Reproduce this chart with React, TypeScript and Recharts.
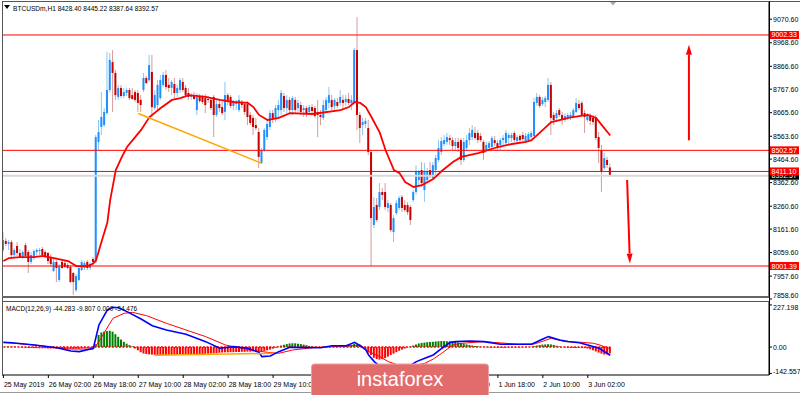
import { ComposedChart, Bar, Line, XAxis, YAxis, ReferenceLine, Cell } from "recharts";

// BTCUSDm H1 candles, one per hour from 25 May 10:00 to 3 Jun 10:00
const opens = [
  8071, 8110, 8097, 8105, 8049, 8088, 8058, 8040, 8092, 8062,
  8019, 8036, 8062, 8066, 8075, 8062, 8058, 8040, 7980, 8019,
  7941, 8019, 8014, 8006, 7997, 7971, 7897, 7941, 7984, 7993,
  8019, 7993, 8032, 8019, 8539, 8604, 8612, 8664, 8764, 8885,
  8838, 8734, 8773, 8738, 8751, 8764, 8742, 8755, 8751, 8721,
  8764, 8816, 8807, 8842, 8686, 8699, 8729, 8786, 8829, 8786,
  8773, 8790, 8751, 8764, 8799, 8773, 8751, 8734, 8742, 8677,
  8734, 8734, 8729, 8725, 8721, 8734, 8656, 8703, 8690, 8669,
  8742, 8734, 8695, 8703, 8677, 8712, 8703, 8703, 8656, 8643,
  8612, 8582, 8448, 8504, 8560, 8604, 8664, 8643, 8677, 8677,
  8738, 8686, 8721, 8677, 8721, 8686, 8699, 8677, 8686, 8669,
  8690, 8686, 8669, 8656, 8643, 8677, 8708, 8721, 8695, 8712,
  8708, 8721, 8712, 8725, 8708, 8708, 8937, 8656, 8612, 8617,
  8599, 8495, 8179, 8266, 8257, 8322, 8322, 8253, 8266, 8149,
  8231, 8253, 8300, 8266, 8266, 8257, 8287, 8322, 8374, 8417,
  8331, 8374, 8417, 8383, 8417, 8461, 8495, 8530, 8539, 8556,
  8547, 8521, 8539, 8547, 8461, 8513, 8547, 8560, 8578, 8578,
  8565, 8539, 8504, 8513, 8517, 8547, 8534, 8526, 8547, 8534,
  8556, 8556, 8578, 8543, 8565, 8569, 8543, 8547, 8560, 8565,
  8708, 8734, 8703, 8712, 8721, 8786, 8656, 8643, 8677, 8656,
  8634, 8647, 8643, 8647, 8669, 8703, 8708, 8664, 8634, 8656,
  8643, 8643, 8560, 8504, 8426, 8461, 8428.4,
];
const highs = [
  8149, 8123, 8114, 8114, 8079, 8105, 8075, 8071, 8101, 8071,
  8062, 8075, 8079, 8079, 8084, 8071, 8062, 8053, 8036, 8027,
  8010, 8027, 8023, 8014, 8006, 7975, 7967, 8001, 8027, 8023,
  8027, 8019, 8040, 8569, 8634, 8755, 8686, 8929, 8924, 8937,
  8851, 8786, 8786, 8773, 8773, 8773, 8773, 8764, 8764, 8742,
  8838, 8825, 8916, 8916, 8764, 8807, 8829, 8842, 8851, 8816,
  8807, 8816, 8786, 8816, 8816, 8786, 8773, 8751, 8755, 8751,
  8747, 8742, 8747, 8738, 8729, 8742, 8721, 8721, 8712, 8799,
  8751, 8742, 8721, 8721, 8742, 8721, 8712, 8716, 8669, 8656,
  8643, 8599, 8513, 8599, 8634, 8677, 8677, 8699, 8721, 8764,
  8751, 8742, 8734, 8738, 8734, 8721, 8712, 8699, 8695, 8699,
  8703, 8695, 8721, 8677, 8721, 8734, 8777, 8742, 8729, 8729,
  8764, 8742, 8742, 8751, 8742, 8946, 9080, 8669, 8643, 8643,
  8634, 8504, 8300, 8296, 8361, 8339, 8361, 8287, 8274, 8222,
  8287, 8305, 8309, 8287, 8279, 8266, 8331, 8439, 8417, 8452,
  8448, 8426, 8452, 8452, 8482, 8547, 8560, 8569, 8578, 8569,
  8560, 8556, 8556, 8556, 8556, 8569, 8599, 8612, 8604, 8591,
  8578, 8547, 8539, 8543, 8565, 8565, 8547, 8556, 8569, 8591,
  8578, 8578, 8586, 8569, 8573, 8582, 8578, 8582, 8586, 8729,
  8751, 8742, 8734, 8738, 8816, 8799, 8669, 8677, 8686, 8669,
  8664, 8664, 8669, 8686, 8729, 8721, 8716, 8677, 8664, 8664,
  8656, 8656, 8582, 8526, 8491, 8474, 8445.22,
];
const lows = [
  8062, 8088, 8071, 8036, 8036, 8045, 8036, 8032, 8036, 7971,
  8010, 8027, 8045, 8049, 8045, 8036, 8010, 8001, 7975, 7932,
  7932, 7988, 7993, 7988, 7928, 7876, 7889, 7936, 7980, 7984,
  7984, 7984, 8010, 8014, 8504, 8569, 8604, 8656, 8755, 8669,
  8721, 8721, 8729, 8729, 8738, 8721, 8721, 8712, 8669, 8669,
  8755, 8790, 8799, 8647, 8677, 8677, 8721, 8777, 8764, 8755,
  8742, 8729, 8734, 8751, 8755, 8734, 8721, 8721, 8721, 8656,
  8708, 8703, 8664, 8708, 8677, 8560, 8647, 8669, 8656, 8634,
  8699, 8686, 8677, 8677, 8669, 8686, 8656, 8612, 8612, 8569,
  8591, 8426, 8443, 8495, 8547, 8591, 8621, 8625, 8643, 8656,
  8669, 8664, 8664, 8656, 8664, 8669, 8656, 8647, 8647, 8656,
  8664, 8643, 8560, 8612, 8634, 8664, 8686, 8677, 8669, 8686,
  8695, 8686, 8695, 8699, 8677, 8699, 8591, 8534, 8569, 8599,
  8482, 8001, 8166, 8192, 8244, 8287, 8244, 8235, 8149, 8105,
  8222, 8244, 8235, 8235, 8222, 8179, 8279, 8309, 8352, 8344,
  8279, 8365, 8383, 8374, 8396, 8452, 8482, 8521, 8526, 8526,
  8504, 8504, 8495, 8439, 8452, 8504, 8526, 8547, 8547, 8534,
  8539, 8461, 8491, 8504, 8508, 8521, 8504, 8504, 8526, 8526,
  8530, 8539, 8539, 8534, 8539, 8543, 8534, 8543, 8552, 8556,
  8695, 8686, 8695, 8690, 8712, 8569, 8612, 8625, 8647, 8612,
  8625, 8634, 8634, 8643, 8664, 8677, 8651, 8578, 8625, 8612,
  8612, 8547, 8448, 8322, 8417, 8426, 8387.64,
];
const closes = [
  8114, 8097, 8105, 8049, 8071, 8058, 8040, 8062, 8045, 8019,
  8049, 8066, 8071, 8071, 8049, 8040, 8023, 8010, 8019, 7993,
  8001, 7993, 7997, 7993, 7932, 7932, 7958, 7993, 8019, 8014,
  7993, 8010, 8019, 8560, 8582, 8647, 8669, 8764, 8894, 8838,
  8742, 8773, 8738, 8755, 8764, 8729, 8725, 8721, 8708, 8699,
  8816, 8794, 8872, 8690, 8742, 8786, 8807, 8829, 8777, 8773,
  8799, 8751, 8773, 8807, 8764, 8742, 8734, 8742, 8725, 8734,
  8716, 8712, 8699, 8721, 8686, 8656, 8703, 8686, 8664, 8742,
  8721, 8695, 8712, 8708, 8721, 8699, 8669, 8647, 8621, 8604,
  8599, 8474, 8504, 8591, 8617, 8664, 8643, 8686, 8699, 8751,
  8686, 8721, 8677, 8729, 8677, 8708, 8669, 8686, 8660, 8690,
  8673, 8651, 8656, 8647, 8699, 8721, 8742, 8690, 8721, 8695,
  8734, 8708, 8725, 8708, 8721, 8937, 8656, 8599, 8625, 8630,
  8495, 8209, 8257, 8201, 8322, 8309, 8257, 8274, 8157, 8209,
  8274, 8296, 8253, 8244, 8235, 8201, 8322, 8409, 8409, 8361,
  8409, 8409, 8391, 8439, 8469, 8513, 8543, 8547, 8560, 8547,
  8521, 8539, 8513, 8461, 8539, 8547, 8578, 8591, 8556, 8547,
  8547, 8491, 8526, 8534, 8556, 8534, 8513, 8547, 8556, 8578,
  8569, 8569, 8547, 8560, 8547, 8552, 8565, 8573, 8578, 8712,
  8734, 8695, 8721, 8729, 8786, 8643, 8634, 8664, 8656, 8634,
  8651, 8656, 8656, 8677, 8708, 8686, 8656, 8647, 8651, 8630,
  8625, 8556, 8513, 8409, 8469, 8439, 8392.57,
];

// moving average at these bars
const maBars = [0, 2, 6, 11, 14, 18, 23, 26, 30, 32, 33, 35, 37, 38, 40, 42, 44, 49, 52, 56, 60, 63, 66, 72, 77, 82, 87, 89, 91, 94, 98, 102, 110, 120, 123, 125, 127, 129, 131, 134, 136, 139, 141, 143, 146, 149, 153, 156, 160, 163, 169, 176, 181, 186, 188, 192, 195, 198, 201, 205, 208, 211, 213, 216];
const maValues = [8023, 8036, 8040, 8040, 8045, 8036, 8023, 8001, 8001, 8012, 8027, 8110, 8190, 8287, 8417, 8470, 8517, 8591, 8647, 8686, 8721, 8729, 8742, 8734, 8721, 8712, 8708, 8690, 8656, 8634, 8643, 8664, 8660, 8677, 8690, 8712, 8708, 8690, 8647, 8578, 8504, 8417, 8404, 8365, 8344, 8352, 8378, 8413, 8452, 8474, 8491, 8517, 8530, 8539, 8547, 8591, 8625, 8634, 8643, 8651, 8656, 8643, 8612, 8567];

// MACD(12,26,9)
const macdBars = [0, 3, 11, 19, 24, 27, 32, 33, 34, 37, 39, 41, 44, 49, 53, 58, 65, 72, 77, 82, 87, 91, 92, 95, 98, 102, 113, 117, 122, 125, 127, 129, 130, 132, 135, 138, 141, 144, 147, 150, 153, 156, 159, 161, 166, 171, 177, 183, 188, 192, 194, 198, 201, 205, 208, 212, 216];
const macdValues = [25, 23, 11, -4, -22, -25, -7, 56, 119, 200, 214, 212, 191, 151, 115, 92, 69, 29, -7, 2, -7, -29, -52, -49, -25, -2, -4, 7, 7, 25, 7, -16, -43, -79, -115, -140, -132, -108, -79, -61, -43, -8, 25, 29, 32, 29, 15, 15, 15, 43, 56, 38, 30, 23, 11, -7, -44.283];
const signalBars = [0, 11, 23, 32, 34, 39, 43, 46, 51, 58, 65, 72, 79, 86, 94, 98, 103, 110, 117, 124, 127, 130, 134, 137, 141, 145, 150, 153, 156, 160, 163, 171, 183, 189, 195, 200, 206, 210, 212, 216];
const signalValues = [25, 11, -11, -11, 29, 155, 182, 187, 169, 128, 92, 56, 11, -11, -29, -34, -16, -4, 2, 7, 11, -25, -52, -79, -100, -104, -88, -65, -34, 11, 20, 29, 15, 16, 47, 29, 25, 20, 12, -9.807];
const histValues = [
  0, 1, 1, 2, 1, 0, -1, -2, -4, -5,
  -5, -6, -6, -7, -7, -7, -8, -8, -8, -9,
  -9, -9, -10, -10, -10, -10, -9, -9, -8, -7,
  -5, -4, -2, 15, 65, 79, 83, 86, 88, 83,
  69, 55, 40, 28, 18, 10, 3, -8, -18, -28,
  -35, -38, -40, -41, -42, -43, -43, -43, -43, -43,
  -42, -42, -42, -41, -41, -40, -40, -40, -39, -39,
  -38, -38, -37, -36, -35, -34, -33, -31, -30, -29,
  -29, -28, -28, -27, -27, -26, -26, -25, -25, -24,
  -24, -24, -23, -21, -18, -14, -9, -4, 3, 8,
  12, 16, 19, 20, 20, 18, 16, 13, 10, 6,
  3, 1, -1, -1, 0, 1, 2, 4, 6, 8,
  9, 10, 10, 11, 12, 17, 14, 8, 2, -12,
  -30, -43, -58, -65, -68, -66, -60, -52, -43, -36,
  -28, -20, -14, -8, -2, 3, 8, 14, 19, 22,
  24, 26, 27, 28, 30, 31, 32, 32, 31, 30,
  29, 27, 24, 21, 18, 14, 11, 8, 6, 4,
  2, 1, -1, -2, -3, -3, -4, -4, -4, -3,
  -3, -3, -2, -2, -2, -1, -1, 0, 1, 4,
  8, 11, 13, 14, 15, 14, 11, 7, 3, -1,
  -3, -4, -5, -5, -5, -4, -5, -6, -8, -12,
  -18, -24, -30, -36, -41, -40, -34.476,
];

const tickBars = [0, 16, 32, 48, 64, 80, 96, 112, 128, 144, 160, 176, 192, 208];
const tickLabels = ["25 May 2019", "26 May 02:00", "26 May 18:00", "27 May 10:00", "28 May 02:00", "28 May 18:00", "29 May 10:00", "30 May 02:00", "30 May 18:00", "31 May 10:00", "1 Jun 02:00", "1 Jun 18:00", "2 Jun 10:00", "3 Jun 02:00"];
const priceTicks = [7858.6, 7957.6, 8059.6, 8161.6, 8260.6, 8362.6, 8464.6, 8563.6, 8665.6, 8767.6, 8866.6, 8968.6, 9070.6];
const macdTicks = [227.198, 0, -142.557];
const macdTickLabels = ["227.198", "0.00", "-142.557"];
const levels = [9002.33, 8502.57, 8411.1, 8001.39];
const lastPrice = 8392.57;

// drawn objects: (bar, price) pairs
const trendLine = [{ x: 48, y: 8662 }, { x: 92, y: 8446 }];
const macdTrendLine = [{ x: 54, y: -45 }, { x: 96, y: -34 }];
const macdZeroLine = [{ x: 0, y: 0 }, { x: 216, y: 0 }];
const upArrow = [{ x: 244, y: 8546 }, { x: 244, y: 8960 }];
const downArrow = [{ x: 222, y: 8374 }, { x: 223, y: 8012 }];

const SLOTS = 273;
const FONT = "'Liberation Sans', Arial, sans-serif";
const BULL = "#1e90ff";
const BULL_WICK = "#8cc6f2";
const BEAR = "#c80000";
const BEAR_WICK = "#d99a9a";
const RED = "#ff0000";

const lookup = (bars: number[], vals: number[]) => new Map(bars.map((b, k) => [b, vals[k]]));
const maMap = lookup(maBars, maValues);
const macdMap = lookup(macdBars, macdValues);
const signalMap = lookup(signalBars, signalValues);

const rows = Array.from({ length: SLOTS }, (_, i) => {
  const has = i < opens.length;
  return {
    i,
    range: has ? [lows[i], highs[i]] : null,
    o: has ? opens[i] : null,
    h: has ? highs[i] : null,
    l: has ? lows[i] : null,
    c: has ? closes[i] : null,
    ma: maMap.has(i) ? maMap.get(i) : null,
    macd: macdMap.has(i) ? macdMap.get(i) : null,
    signal: signalMap.has(i) ? signalMap.get(i) : null,
    hist: has ? histValues[i] : null,
  };
});

const Candle = (props: any) => {
  const { x, y, width, height, payload } = props;
  if (!payload || payload.o == null || y == null) return null;
  const { o, h, l, c } = payload;
  const top = Math.min(y, y + height);
  const bot = Math.max(y, y + height);
  const span = h - l || 1;
  const py = (v: number) => top + ((h - v) / span) * (bot - top);
  const cx = x + width / 2;
  const up = c >= o;
  const b1 = py(Math.max(o, c));
  const b2 = py(Math.min(o, c));
  return (
    <g>
      <line x1={cx} x2={cx} y1={top} y2={bot} stroke={up ? BULL_WICK : BEAR_WICK} strokeWidth={1} />
      <rect x={cx - 1} y={b1} width={2} height={Math.max(b2 - b1, 1)} fill={up ? BULL : BEAR} />
    </g>
  );
};

const Arrow = (p: any) => {
  const { x1, y1, x2, y2 } = p;
  const ang = Math.atan2(y2 - y1, x2 - x1);
  const len = 10;
  const half = 3;
  const bx = x2 - len * Math.cos(ang);
  const by = y2 - len * Math.sin(ang);
  const nx = -Math.sin(ang) * half;
  const ny = Math.cos(ang) * half;
  return (
    <g>
      <line x1={x1} y1={y1} x2={bx} y2={by} stroke={RED} strokeWidth={2} />
      <polygon points={`${x2},${y2} ${bx + nx},${by + ny} ${bx - nx},${by - ny}`} fill={RED} />
    </g>
  );
};

const priceTag = (bg: string, text: string) => (props: any) => {
  const vb = props.viewBox;
  if (!vb) return null;
  const x = vb.x + vb.width + 1;
  return (
    <g>
      <rect x={x} y={vb.y - 4} width={29} height={8} fill={bg} />
      <text x={x + 1.5} y={vb.y} dy={2.5} fontSize={7} fontFamily={FONT} fill="#fff">
        {text}
      </text>
    </g>
  );
};

const PriceTick = (p: any) => {
  const v = Number(p.payload.value);
  const dy = v === priceTicks[0] ? -0.5 : 2.5;
  return (
    <text x={p.x} y={p.y} dy={dy} fontSize={7} fontFamily={FONT} fill="#000" textAnchor="start">
      {v.toFixed(2)}
    </text>
  );
};

const MacdTick = (p: any) => {
  const k = macdTicks.indexOf(p.payload.value);
  const dy = k === 0 ? 5 : k === 2 ? 1 : 3;
  return (
    <text x={p.x} y={p.y} dy={dy} fontSize={7} fontFamily={FONT} fill="#000" textAnchor="start">
      {macdTickLabels[k]}
    </text>
  );
};

const DateTick = (p: any) => {
  const k = tickBars.indexOf(p.payload.value);
  return (
    <text x={p.x + 0.5} y={p.y} dy={6.5} fontSize={7} fontFamily={FONT} fill="#000" textAnchor="start">
      {tickLabels[k]}
    </text>
  );
};

export default function App() {
  return (
    <div style={{ position: "absolute", left: 0, top: 0, width: 800, height: 395, background: "#fff", overflow: "hidden", fontFamily: FONT }}>
      <div style={{ position: "absolute", left: 0, top: 0 }}>
        <ComposedChart width={800} height={300} data={rows} margin={{ top: 2, right: 0, bottom: 2, left: 2 }} barCategoryGap={0}>
          <XAxis dataKey="i" type="category" hide />
          <YAxis
            orientation="right"
            type="number"
            width={31}
            domain={[7862.8, 9145.3]}
            allowDataOverflow
            ticks={priceTicks}
            interval={0}
            tick={PriceTick}
            tickSize={3}
            tickMargin={1}
            tickLine={{ stroke: "#000" }}
            axisLine={{ stroke: "#000" }}
          />
          <ReferenceLine y={lastPrice} stroke="#d9d9d9" strokeWidth={2} label={priceTag("#000", lastPrice.toFixed(2))} />
          <Bar dataKey="range" shape={Candle} barSize={2} isAnimationActive={false} />
          <Line dataKey="ma" type="linear" stroke={RED} strokeWidth={1.8} dot={false} connectNulls isAnimationActive={false} />
          {levels.map((v) => (
            <ReferenceLine key={v} y={v} stroke={RED} strokeWidth={1} label={priceTag(RED, v.toFixed(2))} />
          ))}
          <ReferenceLine segment={trendLine} stroke="#ffa500" strokeWidth={1.5} />
          <ReferenceLine segment={upArrow} shape={Arrow} />
          <ReferenceLine segment={downArrow} shape={Arrow} />
        </ComposedChart>
      </div>
      <div style={{ position: "absolute", left: 0, top: 300 }}>
        <ComposedChart width={800} height={93} data={rows} margin={{ top: 2, right: 0, bottom: 0, left: 2 }} barCategoryGap={0}>
          <XAxis
            dataKey="i"
            type="category"
            ticks={tickBars}
            interval={0}
            height={18}
            tick={DateTick}
            tickSize={3}
            tickLine={{ stroke: "#000" }}
            axisLine={{ stroke: "#000" }}
          />
          <YAxis
            orientation="right"
            type="number"
            width={31}
            domain={[-151.2, 243]}
            allowDataOverflow
            ticks={macdTicks}
            interval={0}
            tick={MacdTick}
            tickSize={3}
            tickMargin={1}
            tickLine={{ stroke: "#000" }}
            axisLine={{ stroke: "#000" }}
          />
          <ReferenceLine segment={macdZeroLine} stroke={RED} strokeWidth={1.5} strokeDasharray="2 1.5" />
          <Bar dataKey="hist" barSize={2} isAnimationActive={false}>
            {rows.map((r) => (
              <Cell key={r.i} fill={(r.hist ?? 0) >= 0 ? "#008000" : RED} />
            ))}
          </Bar>
          <Line dataKey="signal" type="linear" stroke={RED} strokeWidth={1} dot={false} connectNulls isAnimationActive={false} />
          <Line dataKey="macd" type="linear" stroke="#0000ff" strokeWidth={1.6} dot={false} connectNulls isAnimationActive={false} />
          <ReferenceLine segment={macdTrendLine} stroke="#ffa500" strokeWidth={1.5} />
        </ComposedChart>
      </div>
      <svg width={800} height={395} style={{ position: "absolute", left: 0, top: 0, pointerEvents: "none" }}>
        <line x1={2} y1={1.5} x2={800} y2={1.5} stroke="#555" />
        <line x1={2.5} y1={1.5} x2={2.5} y2={375} stroke="#555" />
        <line x1={2} y1={297} x2={769} y2={297} stroke="#666" strokeWidth={2} />
        <line x1={2} y1={301.5} x2={769} y2={301.5} stroke="#555" />
        <line x1={769.5} y1={1.5} x2={769.5} y2={375} stroke="#000" />
        <line x1={0} y1={392.5} x2={800} y2={392.5} stroke="#999" />
        <polygon points="4,5 10,5 7,9" fill="#000" />
        <polygon points="610,2 616,2 613,5.5" fill="#aaa" />
        <text x={13} y={10.5} fontSize={6.6} fontFamily={FONT} fill="#000">
          BTCUSDm,H1  8428.40 8445.22 8387.64 8392.57
        </text>
        <text x={6} y={311} fontSize={6.5} fontFamily={FONT} fill="#000">
          MACD(12,26,9) -44.283 -9.807 0.000 -34.476
        </text>
        <rect x={311.5} y={364} width={177} height={40} rx={3} fill="#e26c6c" stroke="#eba0a0" />
        <text x={400} y={386} textAnchor="middle" fontSize={20} fontFamily={FONT} fill="#fff">
          instaforex
        </text>
      </svg>
    </div>
  );
}
